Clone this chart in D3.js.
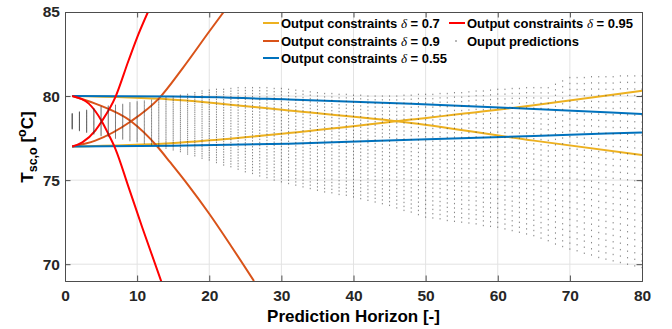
<!DOCTYPE html>
<html>
<head>
<meta charset="utf-8">
<script src="https://cdn.jsdelivr.net/npm/d3@7"></script>
<style>
  body { margin: 0; background: #fff; }
  svg { display: block; font-family: "Liberation Sans", Arial, sans-serif; }
  .tick-label { font-size: 15.5px; font-weight: bold; fill: #262626; }
  .axis-title { font-size: 17px; font-weight: bold; fill: #000; }
  .legend-text { font-size: 13px; font-weight: bold; fill: #000; }
</style>
</head>
<body>
<div id="chart"></div>
<script>
// axis ticks
const horizonTicks = [0, 10, 20, 30, 40, 50, 60, 70, 80];
const tempTicks = [70, 75, 80, 85];

// output constraints, delta = 0.55 (blue)
const kD055 = [1, 15, 31, 48, 65, 80];
const upperD055 = [80, 79.97, 79.8, 79.55, 79.23, 78.94];
const lowerD055 = [77, 77.05, 77.17, 77.4, 77.63, 77.84];

// output constraints, delta = 0.7 (yellow)
const kD07 = [1, 14.6, 31, 48, 65, 80];
const upperD07 = [80, 79.8, 79.14, 78.4, 77.35, 76.5];
const lowerD07 = [77, 77.2, 77.8, 78.6, 79.45, 80.32];

// output constraints, delta = 0.9 (orange)
const kUpperD09 = [1, 4.2, 9.15, 12.8, 14.6, 17, 20, 23, 26.2];
const upperD09 = [80, 79.55, 78.5, 77.0, 76.05, 74.75, 73.0, 71.1, 69];
const kLowerD09 = [1, 4.2, 9.15, 13, 16.3, 20.1, 22];
const lowerD09 = [77, 77.35, 78.5, 79.85, 81.65, 83.9, 85];

// output constraints, delta = 0.95 (red)
const kUpperD095 = [1, 3.3, 5.1, 6.0, 7.0, 8.8, 10.7, 13.45];
const upperD095 = [80, 79.55, 78.5, 77.75, 76.85, 74.6, 72.2, 68.85];
const kLowerD095 = [1, 2.4, 4.2, 5.1, 7.0, 8.8, 10.2, 11.5];
const lowerD095 = [77, 77.25, 77.95, 78.5, 79.95, 82.1, 83.7, 85];

// spread of the output predictions for each horizon step k = 1..80
const predTop = [
  78.95, 79.05, 79.15, 79.25, 79.35, 79.4, 79.45, 79.5, 79.6, 79.65,
  79.7, 79.75, 79.8, 79.9, 79.95, 80.05, 80.1, 80.2, 80.3, 80.35,
  80.4, 80.4, 80.45, 80.5, 80.5, 80.5, 80.5, 80.5, 80.45, 80.45,
  80.4, 80.35, 80.3, 80.25, 80.2, 80.15, 80.15, 80.1, 80.1, 80.05,
  80.05, 80.0, 80.0, 80.0, 80.0, 80.0, 80.05, 80.05, 80.1, 80.1,
  80.1, 80.15, 80.15, 80.2, 80.2, 80.25, 80.3, 80.3, 80.35, 80.4,
  80.4, 80.45, 80.45, 80.5, 80.5, 80.5, 80.5, 80.7, 80.9, 81.1,
  81.1, 81.1, 81.15, 81.15, 81.15, 81.15, 81.2, 81.2, 81.2, 81.2
];
const predBottom = [
  78.05, 77.95, 77.85, 77.75, 77.65, 77.6, 77.5, 77.45, 77.35, 77.3,
  77.2, 77.1, 77.0, 76.9, 76.8, 76.7, 76.55, 76.45, 76.3, 76.2,
  76.05, 75.9, 75.8, 75.65, 75.5, 75.4, 75.25, 75.15, 75.0, 74.9,
  74.8, 74.7, 74.6, 74.5, 74.4, 74.3, 74.25, 74.15, 74.1, 74.0,
  73.9, 73.8, 73.7, 73.6, 73.5, 73.35, 73.2, 73.1, 72.95, 72.8,
  72.75, 72.7, 72.6, 72.55, 72.5, 72.45, 72.4, 72.3, 72.25, 72.2,
  72.1, 72.0, 71.9, 71.8, 71.7, 71.55, 71.4, 71.2, 71.05, 70.9,
  70.8, 70.65, 70.55, 70.4, 70.3, 70.2, 70.1, 70.0, 69.9, 69.8
];
const dotsPerStep = 30;

const legendLabels = ['0.7', '0.9', '0.55', '0.95'];
const legendColors = ['#EDB120', '#D95319', '#0072BD', '#FF0000'];

const margin = { top: 12, right: 30, bottom: 48, left: 65 };
const width = 672 - margin.left - margin.right;
const height = 329 - margin.top - margin.bottom;

const svg = d3.select('#chart')
  .append('svg')
  .attr('width', 672)
  .attr('height', 329);

const g = svg.append('g')
  .attr('transform', 'translate(' + margin.left + ',' + margin.top + ')');

// scales
const x = d3.scaleLinear().domain([0, 80]).range([0, width]);
const y = d3.scaleLinear().domain([69, 85]).range([height, 0]);

svg.append('defs').append('clipPath')
  .attr('id', 'plot-clip')
  .append('rect')
  .attr('width', width)
  .attr('height', height);

// GRID
g.append('g')
  .selectAll('line')
  .data(horizonTicks.slice(1, -1))
  .enter().append('line')
  .attr('x1', d => x(d)).attr('x2', d => x(d))
  .attr('y1', 0).attr('y2', height)
  .attr('stroke', '#e3e3e3');

g.append('g')
  .selectAll('line')
  .data(tempTicks.slice(0, -1))
  .enter().append('line')
  .attr('x1', 0).attr('x2', width)
  .attr('y1', d => y(d)).attr('y2', d => y(d))
  .attr('stroke', '#e3e3e3');

// CONSTRAINT LINES
const line = d3.line()
  .x(d => x(d[0]))
  .y(d => y(d[1]))
  .curve(d3.curveMonotoneX);

const series = [
  { k: kD07, v: upperD07, color: legendColors[0] },
  { k: kD07, v: lowerD07, color: legendColors[0] },
  { k: kUpperD09, v: upperD09, color: legendColors[1] },
  { k: kLowerD09, v: lowerD09, color: legendColors[1] },
  { k: kD055, v: upperD055, color: legendColors[2] },
  { k: kD055, v: lowerD055, color: legendColors[2] },
  { k: kUpperD095, v: upperD095, color: legendColors[3] },
  { k: kLowerD095, v: lowerD095, color: legendColors[3] }
];

const plot = g.append('g').attr('clip-path', 'url(#plot-clip)');

plot.selectAll('.constraint')
  .data(series)
  .enter().append('path')
  .attr('class', 'constraint')
  .attr('fill', 'none')
  .attr('stroke', d => d.color)
  .attr('stroke-width', 2)
  .attr('d', d => line(d.k.map((k, i) => [k, d.v[i]])));

// OUTPUT PREDICTIONS
const dots = [];
predTop.forEach((top, i) => {
  const bottom = predBottom[i];
  for (let j = 0; j < dotsPerStep; j++) {
    dots.push([i + 1, bottom + (top - bottom) * j / (dotsPerStep - 1)]);
  }
});

plot.selectAll('.pred')
  .data(dots)
  .enter().append('rect')
  .attr('class', 'pred')
  .attr('x', d => x(d[0]) - 0.5)
  .attr('y', d => y(d[1]) - 0.7)
  .attr('width', 1)
  .attr('height', 1.4)
  .attr('fill', '#333')
  .attr('opacity', 0.6);

// AXES (box, ticks inward on all four sides)
const xAxisB = d3.axisBottom(x).tickValues(horizonTicks).tickSize(-5.5).tickPadding(9);
const yAxisL = d3.axisLeft(y).tickValues(tempTicks).tickSize(-5.5).tickPadding(5);

g.append('g')
  .attr('transform', 'translate(0,' + height + ')')
  .call(xAxisB);
g.append('g').call(yAxisL);

g.append('g').call(d3.axisTop(x).tickValues(horizonTicks).tickSize(-5.5).tickFormat(''));
g.append('g')
  .attr('transform', 'translate(' + width + ',0)')
  .call(d3.axisRight(y).tickValues(tempTicks).tickSize(-5.5).tickFormat(''));

g.selectAll('.domain').attr('stroke', '#4d4d4d');
g.selectAll('.tick line').attr('stroke', '#4d4d4d');
g.selectAll('.tick text').attr('class', 'tick-label').attr('font-family', null).attr('font-size', null);

// AXIS TITLES
svg.append('text')
  .attr('class', 'axis-title')
  .attr('x', margin.left + width / 2)
  .attr('y', 322)
  .attr('text-anchor', 'middle')
  .text('Prediction Horizon [-]');

const yTitle = svg.append('text')
  .attr('class', 'axis-title')
  .attr('transform', 'translate(33,' + 147 + ') rotate(-90)')
  .attr('text-anchor', 'middle');
yTitle.append('tspan').text('T');
yTitle.append('tspan').attr('font-size', '12.5px').attr('dy', 4).text('sc,o');
yTitle.append('tspan').attr('dy', -4).text(' [');
yTitle.append('tspan').attr('font-size', '12.5px').attr('dy', -7).text('o');
yTitle.append('tspan').attr('dy', 7).text('C]');

// LEGEND (two columns, no box)
const legendPos = [
  { lx: 263, ly: 23 }, { lx: 263, ly: 41 }, { lx: 263, ly: 58 }, { lx: 449, ly: 23 }
];

const legend = svg.append('g');
legendLabels.forEach((lab, i) => {
  const p = legendPos[i];
  legend.append('line')
    .attr('x1', p.lx).attr('x2', p.lx + 16)
    .attr('y1', p.ly).attr('y2', p.ly)
    .attr('stroke', legendColors[i])
    .attr('stroke-width', 2);
  const t = legend.append('text')
    .attr('class', 'legend-text')
    .attr('x', p.lx + 18)
    .attr('y', p.ly + 4.5);
  t.append('tspan').text('Output constraints ');
  t.append('tspan')
    .attr('font-family', '"Liberation Serif", "Times New Roman", serif')
    .attr('font-style', 'italic')
    .attr('font-weight', 'normal')
    .text('δ');
  t.append('tspan').text(' = ' + lab);
});

legend.append('rect')
  .attr('x', 455.5).attr('y', 40.3)
  .attr('width', 1).attr('height', 1.4)
  .attr('fill', '#333');
legend.append('text')
  .attr('class', 'legend-text')
  .attr('x', 467)
  .attr('y', 45.5)
  .text('Ouput predictions');
</script>
</body>
</html>
